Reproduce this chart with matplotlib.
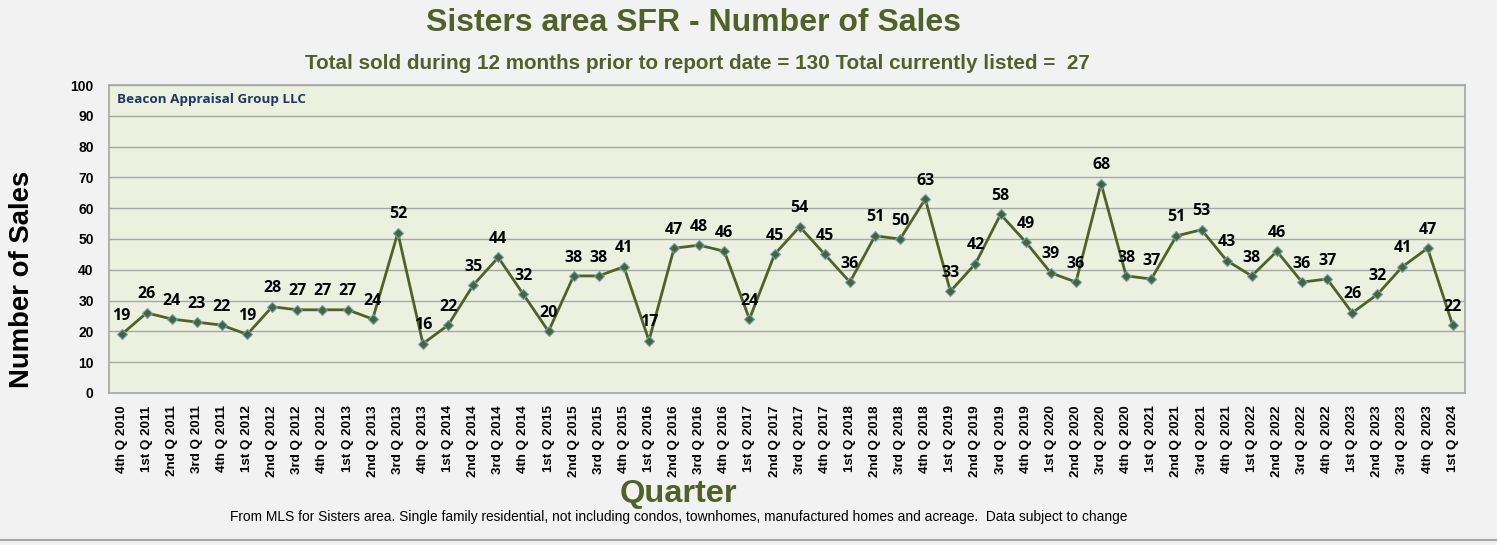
import matplotlib
matplotlib.use("Agg")
import matplotlib.pyplot as plt
import numpy as np

# quarters and sales counts
quarters = ["4th Q 2010"]
for yr in range(2011, 2024):
    for q in ["1st", "2nd", "3rd", "4th"]:
        quarters.append(q + " Q " + str(yr))
quarters.append("1st Q 2024")

sales = [19, 26, 24, 23, 22, 19, 28, 27, 27, 27, 24, 52, 16, 22, 35, 44, 32, 20,
         38, 38, 41, 17, 47, 48, 46, 24, 45, 54, 45, 36, 51, 50, 63, 33, 42, 58,
         49, 39, 36, 68, 38, 37, 51, 53, 43, 38, 46, 36, 37, 26, 32, 41, 47, 22]

green = "#4F6228"

fig = plt.figure(figsize=(14.97, 5.45), dpi=100, facecolor="#F2F2F2")
ax = fig.add_axes([0.0728, 0.279, 0.906, 0.565])
ax.set_facecolor("#EBF1DE")

x = np.arange(len(sales))
ax.plot(x, sales, color=green, linewidth=2, marker="D", markersize=5,
        markerfacecolor=green, markeredgecolor="#6A9FD0", markeredgewidth=0.8, zorder=3)

for xi, v in zip(x, sales):
    ax.annotate(str(v), (xi, v), xytext=(0, 7.5), textcoords="offset points",
                ha="center", va="bottom", fontsize=11.5, fontweight="bold",
                family="Open Sans", color="black")

ax.set_xlim(-0.5, len(sales) - 0.5)
ax.set_ylim(0, 100)
ax.set_yticks(range(0, 101, 10))
ax.yaxis.grid(True, color="#A6A6A6", linewidth=1)
ax.set_axisbelow(True)
ax.set_xticks(x)
ax.set_xticklabels(quarters, rotation=90, fontsize=9.6, fontweight="bold", family="Liberation Sans")
for lab in ax.get_yticklabels():
    lab.set_fontsize(10)
    lab.set_fontweight("bold")
    lab.set_family("Liberation Sans")
ax.tick_params(axis="y", length=0, pad=11)
ax.tick_params(axis="x", length=0, pad=9)
for s in ax.spines.values():
    s.set_color("#A6A6A6")
    s.set_linewidth(1.2)

ax.text(0.006, 0.975, "Beacon Appraisal Group LLC", transform=ax.transAxes,
        ha="left", va="top", fontsize=9.7, fontweight="bold", color="#1F3864", family="Open Sans")

fig.text(0.463, 0.958, "Sisters area SFR - Number of Sales", ha="center", va="center",
         fontsize=23, fontweight="bold", color=green, family="Liberation Sans")
fig.text(0.466, 0.884, "Total sold during 12 months prior to report date = 130 Total currently listed =  27",
         ha="center", va="center", fontsize=14.9, fontweight="bold", color=green, family="Liberation Sans")
fig.text(0.453, 0.079, "Quarter", ha="center", va="baseline",
         fontsize=23.4, fontweight="bold", color=green, family="Liberation Sans")
fig.text(0.0144, 0.487, "Number of Sales", ha="center", va="center", rotation=90,
         fontsize=19.8, fontweight="bold", color="black", family="Liberation Sans")
fig.text(0.4536, 0.052, "From MLS for Sisters area. Single family residential, not including condos, townhomes, manufactured homes and acreage.  Data subject to change",
         ha="center", va="center", fontsize=9.9, color="black", family="Liberation Sans")
fig.add_artist(plt.Line2D([0, 1], [0.009, 0.009], color="#A6A6A6", linewidth=1.5))

plt.savefig("out.png", dpi=100, facecolor=fig.get_facecolor())
